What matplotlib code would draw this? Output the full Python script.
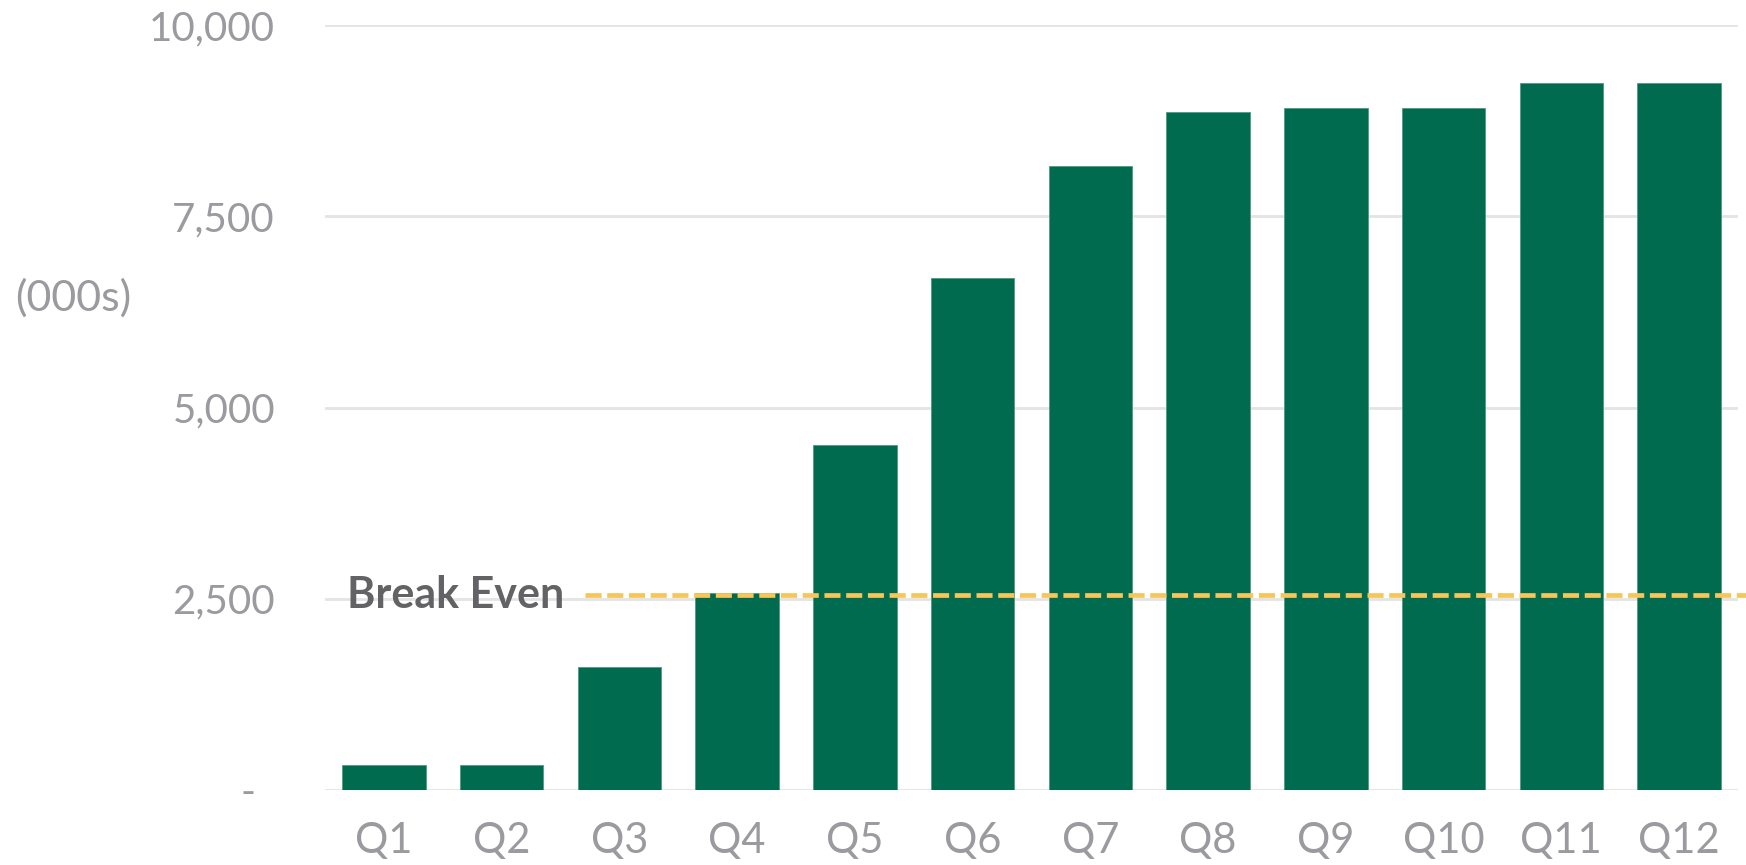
import matplotlib
matplotlib.use("Agg")
import matplotlib.pyplot as plt
from matplotlib.ticker import FixedLocator, FuncFormatter

quarters = ["Q1", "Q2", "Q3", "Q4", "Q5", "Q6", "Q7", "Q8", "Q9", "Q10", "Q11", "Q12"]
values = [330, 330, 1610, 2580, 4510, 6690, 8160, 8860, 8915, 8915, 9240, 9240]
break_even = 2550
yticks = [0, 2500, 5000, 7500, 10000]

BAR = "#006B4E"
GRID = "#E4E4E4"
TICK = "#9A9A9F"
LABEL = "#636366"
GOLD = "#F6C55B"

plt.rcParams["font.family"] = ["Lato", "DejaVu Sans"]

fig = plt.figure(figsize=(17.46, 8.65), dpi=100)
ax = fig.add_axes([0.1861, 0.0867, 0.8093, 0.8844])

x = list(range(len(quarters)))
ax.bar(x, values, width=0.71, color=BAR, edgecolor="#4f9a80", linewidth=0.6, zorder=3)

ax.set_xlim(-0.5, len(quarters) - 0.5)
ax.set_ylim(0, 10000)

ax.yaxis.set_major_locator(FixedLocator(yticks))
ax.yaxis.set_major_formatter(FuncFormatter(lambda v, p: "-" if v == 0 else f"{int(v):,}"))
ax.set_xticks(x)
ax.set_xticklabels(quarters)

ax.grid(axis="y", color=GRID, linewidth=2, zorder=0)
ax.set_axisbelow(True)
for s in ax.spines.values():
    s.set_visible(False)
ax.tick_params(axis="y", length=0, pad=36, labelsize=29, labelcolor=TICK)
ax.tick_params(axis="x", length=0, pad=23, labelsize=30, labelcolor=TICK)

# accounting-style zero label sits a little further left
ax.yaxis.get_major_ticks()[0].set_pad(50)

# break-even line
ax.plot([1.71, 11.57], [break_even, break_even], color=GOLD, linewidth=3.4,
        dashes=(3.4, 1.2), zorder=4, clip_on=False, solid_capstyle="butt",
        dash_capstyle="butt")
ax.text(-0.31, break_even, "Break Even", ha="left", va="center", fontsize=31,
        fontweight="bold", color=LABEL, zorder=5)

fig.text(73 / 1746, 1 - 298 / 865, "(000s)", ha="center", va="center",
         fontsize=31, color=TICK)

fig.savefig("out.png", dpi=100)
